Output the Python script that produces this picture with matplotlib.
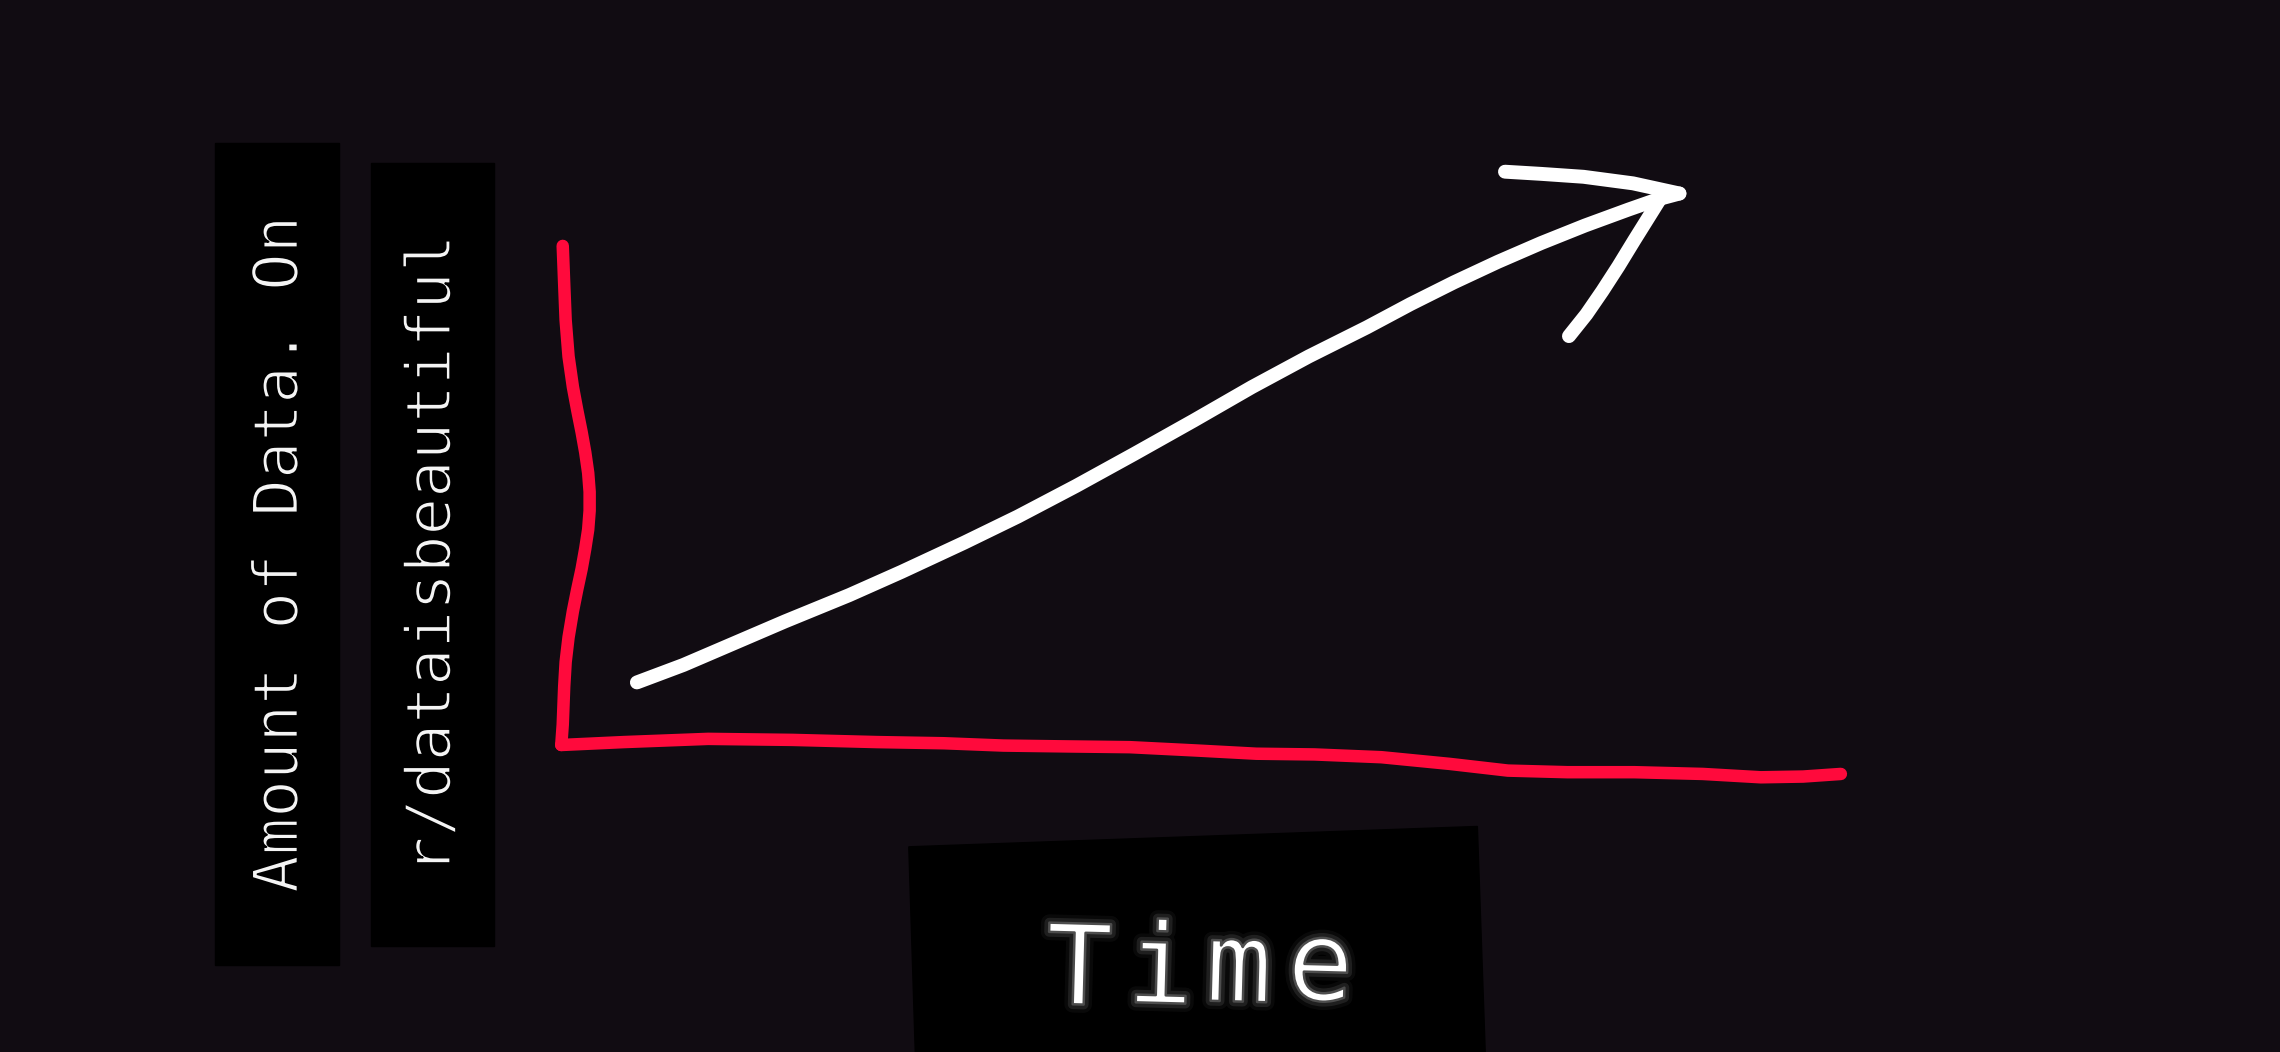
import matplotlib.pyplot as plt
import matplotlib.patheffects as pe
from matplotlib.patches import Polygon, Rectangle

# sketch coordinates (picture space: x to the right, y downwards)
os_y_x = [387, 388, 389, 391, 394, 397, 400, 402.5, 404.5, 405.5, 405.5,
          404.5, 402.5, 400, 397, 394, 391, 389, 388, 387, 386]
os_y_y = [169, 195, 220, 245, 266, 282, 297, 311, 325, 338, 351,
          364, 377, 391, 405, 420, 438, 455, 472, 498, 512]

os_x_x = [386, 429, 487, 545, 603, 649, 690, 735, 777, 823, 864, 904, 950,
          997, 1037, 1078, 1124, 1171, 1211, 1240, 1266]
os_x_y = [512, 510, 507.8, 508.5, 510, 510.8, 512.4, 513, 513.5, 515.8, 518,
          518.5, 520.4, 525, 529.6, 530.7, 530.7, 531.9, 534.2, 533.7, 531.9]

trend_x = [438, 470, 505, 540, 584, 620, 663, 700, 740, 780, 821, 861, 900,
           940, 970, 1000, 1030, 1060, 1090, 1120, 1140, 1155]
trend_y = [469, 457, 442, 427, 409, 393, 373, 355, 334, 312, 289, 266, 245,
           225, 209, 194, 180, 167, 155, 144, 137, 133]

grot_gora_x = [1035, 1060, 1089, 1123, 1155]
grot_gora_y = [118, 119.5, 121.5, 126, 133]
grot_dol_x = [1079, 1091, 1102, 1113, 1124, 1134, 1144]
grot_dol_y = [231, 216, 200, 183, 165, 149, 133]

napis_y = "Amount of Data. On"
napis_sub = "r/dataisbeautiful"
napis_x = ["T", "i", "m", "e"]
litery_x = [742, 798, 852, 908]
litery_y = [669, 668, 667, 666]

tlo = "#110c12"
czerwony = "#ff0a3c"

fig = plt.figure(figsize=(22.8, 10.52), dpi=100, facecolor=tlo)
ax = fig.add_axes([0, 0, 1, 1])
ax.set_facecolor(tlo)
ax.set_xlim(0, 1568)
ax.set_ylim(723, 0)
ax.axis("off")

# czarne pola pod napisami
ax.add_patch(Rectangle((148, 98), 85, 565, color="black", zorder=1))
ax.add_patch(Rectangle((255, 112), 85, 538, color="black", zorder=1))
ax.add_patch(Polygon([(625, 582), (1016, 568), (1022, 740), (630, 740)],
                     closed=True, color="black", zorder=1))

font = "DejaVu Sans Mono"
cienki = [pe.Normal(), pe.Stroke(linewidth=1.4, foreground="black")]

ax.text(193, 381, napis_y, rotation=90, ha="center", va="center",
        fontsize=45, family=font, color="#f4f4f4", zorder=3, path_effects=cienki)
ax.text(298, 381, napis_sub, rotation=90, ha="center", va="center",
        fontsize=45, family=font, color="#f4f4f4", zorder=3, path_effects=cienki)

glow_time = [pe.Stroke(linewidth=12, foreground=(1, 1, 1, 0.04)),
             pe.Stroke(linewidth=7, foreground=(1, 1, 1, 0.09)),
             pe.Normal(),
             pe.Stroke(linewidth=1.8, foreground=(0.3, 0.3, 0.3))]
for litera, x, y in zip(napis_x, litery_x, litery_y):
    ax.text(x, y, litera, ha="center", va="center", fontsize=80,
            family=font, color="white", rotation=-1.5, zorder=3,
            path_effects=glow_time)

kw = dict(solid_capstyle="round", solid_joinstyle="round", zorder=2)
ax.plot(os_y_x, os_y_y, color=czerwony, linewidth=9, **kw)
ax.plot(os_x_x, os_x_y, color=czerwony, linewidth=9, **kw)

ax.plot(trend_x, trend_y, color="white", linewidth=10, **kw)
ax.plot(grot_gora_x, grot_gora_y, color="white", linewidth=10, **kw)
ax.plot(grot_dol_x, grot_dol_y, color="white", linewidth=10, **kw)

fig.savefig("out.png", dpi=100, facecolor=tlo)
